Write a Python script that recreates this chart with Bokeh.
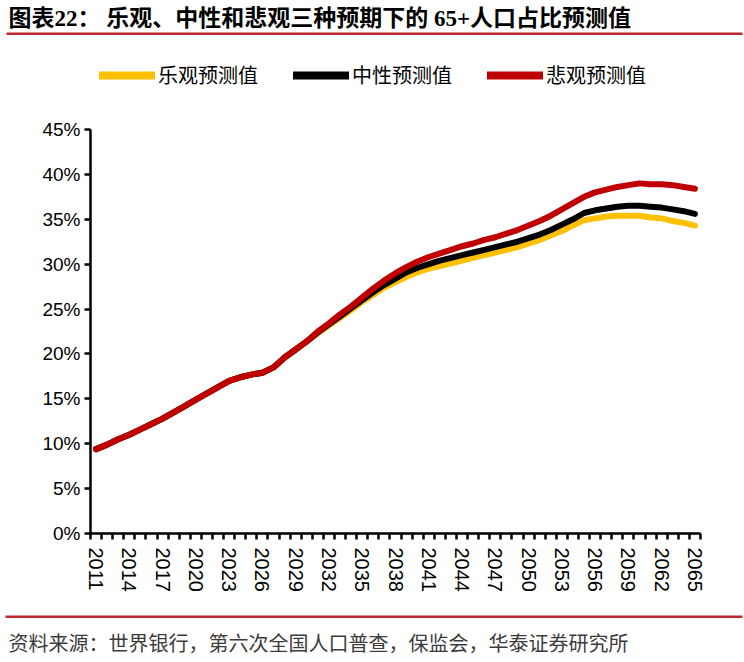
from bokeh.plotting import figure
from bokeh.layouts import column
from bokeh.models import Range1d, FixedTicker, Legend, LegendItem
from bokeh.core.properties import value
from bokeh.embed import file_html
from bokeh.resources import INLINE

years = [2011, 2012, 2013, 2014, 2015, 2016, 2017, 2018, 2019, 2020,
         2021, 2022, 2023, 2024, 2025, 2026, 2027, 2028, 2029, 2030,
         2031, 2032, 2033, 2034, 2035, 2036, 2037, 2038, 2039, 2040,
         2041, 2042, 2043, 2044, 2045, 2046, 2047, 2048, 2049, 2050,
         2051, 2052, 2053, 2054, 2055, 2056, 2057, 2058, 2059, 2060,
         2061, 2062, 2063, 2064, 2065]

optimistic = [9.4, 9.9, 10.5, 11.0, 11.6, 12.2, 12.8, 13.5, 14.2, 14.9,
              15.6, 16.3, 17.0, 17.4, 17.7, 17.9, 18.5, 19.6, 20.5, 21.4,
              22.3, 23.2, 24.0, 24.9, 25.8, 26.6, 27.4, 28.0, 28.6, 29.1,
              29.5, 29.8, 30.1, 30.4, 30.7, 31.0, 31.3, 31.6, 31.9, 32.3,
              32.7, 33.2, 33.7, 34.3, 34.9, 35.1, 35.3, 35.4, 35.4, 35.4,
              35.2, 35.1, 34.8, 34.6, 34.3]

neutral = [9.4, 9.9, 10.5, 11.0, 11.6, 12.2, 12.8, 13.5, 14.2, 14.9,
           15.6, 16.3, 17.0, 17.4, 17.7, 17.9, 18.5, 19.6, 20.5, 21.4,
           22.4, 23.3, 24.2, 25.1, 26.0, 26.9, 27.7, 28.4, 29.1, 29.6,
           30.0, 30.4, 30.7, 31.0, 31.3, 31.6, 31.9, 32.2, 32.5, 32.9,
           33.3, 33.8, 34.4, 35.0, 35.7, 36.0, 36.2, 36.4, 36.5, 36.5,
           36.4, 36.3, 36.1, 35.9, 35.6]

pessimistic = [9.4, 9.9, 10.5, 11.0, 11.6, 12.2, 12.8, 13.5, 14.2, 14.9,
               15.6, 16.3, 17.0, 17.4, 17.7, 17.9, 18.5, 19.6, 20.5, 21.4,
               22.5, 23.4, 24.4, 25.3, 26.3, 27.3, 28.2, 29.0, 29.7, 30.3,
               30.8, 31.2, 31.6, 32.0, 32.3, 32.7, 33.0, 33.4, 33.8, 34.3,
               34.8, 35.4, 36.1, 36.8, 37.5, 38.0, 38.3, 38.6, 38.8, 39.0,
               38.9, 38.9, 38.8, 38.6, 38.4]

tick_years = [2011, 2014, 2017, 2020, 2023, 2026, 2029, 2032, 2035, 2038,
              2041, 2044, 2047, 2050, 2053, 2056, 2059, 2062, 2065]
y_ticks = [0, 5, 10, 15, 20, 25, 30, 35, 40, 45]
y_tick_labels = ["0%", "5%", "10%", "15%", "20%", "25%", "30%", "35%", "40%", "45%"]

series_names = ["乐观预测值", "中性预测值", "悲观预测值"]
series_colors = ["#FFC000", "#000000", "#C00000"]
title_text = "图表22： 乐观、中性和悲观三种预期下的 65+人口占比预测值"
source_text = "资料来源：世界银行，第六次全国人口普查，保监会，华泰证券研究所"
rule_color = "#C0282D"

W = 744
HEAD_H, MAIN_H, FOOT_H = 99, 511, 52


def blank_fig(h):
    f = figure(width=W, height=h, output_backend="svg", toolbar_location=None,
               x_range=Range1d(0, W), y_range=Range1d(h, 0),
               x_axis_location=None, y_axis_location=None, min_border=0,
               frame_align=False)
    f.outline_line_color = None
    f.grid.visible = False
    return f


# ---------- header: title, red rule, legend ----------
head = blank_fig(HEAD_H)
head.text(x=[8], y=[18], text=[title_text],
          text_font=value("'Liberation Serif', 'Noto Sans CJK SC'"), text_font_style="bold",
          text_font_size="23px", text_baseline="middle", text_align="left", text_color="black")
head.quad(left=[6], right=[742], top=[32], bottom=[34.5], fill_color=rule_color, line_color=None)

# legend keys (drawn outside the visible range; only their legend swatches show)
legend_renderers = [head.line(x=[-60, -50], y=[-60, -60], line_color=c, line_width=8, line_cap="round")
                    for c in series_colors]
legend = Legend(items=[LegendItem(label=n, renderers=[r]) for n, r in zip(series_names, legend_renderers)],
                orientation="horizontal", location=(99, 10),
                glyph_width=56, glyph_height=20, label_height=20, label_standoff=3,
                spacing=35, padding=0, margin=0,
                border_line_color=None, background_fill_alpha=0,
                label_text_font="Noto Sans CJK SC", label_text_font_size="20px",
                label_text_color="black")
head.add_layout(legend, "center")

# ---------- main chart ----------
p = figure(width=W, height=MAIN_H, output_backend="svg", toolbar_location=None,
           x_range=Range1d(years[0] - 0.5, years[-1] + 0.5), y_range=Range1d(0, 45),
           min_border_left=90, min_border_right=44, min_border_top=30, min_border_bottom=77,
           frame_align=False)
p.outline_line_color = None
p.grid.visible = False

boundaries = [y - 0.5 for y in years] + [years[-1] + 0.5]
xa = p.xaxis[0]
xa.ticker = FixedTicker(ticks=tick_years, minor_ticks=boundaries)
xa.major_tick_out = 0
xa.major_tick_in = 0
xa.minor_tick_out = 6
xa.minor_tick_in = 0
xa.minor_tick_line_width = 2.5
xa.minor_tick_line_color = "black"
xa.axis_line_width = 2.5
xa.axis_line_color = "black"
xa.major_label_orientation = "vertical"
xa.major_label_standoff = 8
xa.major_label_text_font = "Liberation Sans"
xa.major_label_text_font_size = "20px"
xa.major_label_text_color = "black"

ya = p.yaxis[0]
ya.ticker = FixedTicker(ticks=y_ticks)
ya.major_label_overrides = {t: s for t, s in zip(y_ticks, y_tick_labels)}
ya.major_tick_out = 6
ya.major_tick_in = 0
ya.major_tick_line_width = 2.5
ya.minor_tick_out = 0
ya.minor_tick_in = 0
ya.axis_line_width = 2.5
ya.axis_line_color = "black"
ya.major_label_standoff = 4
ya.major_label_text_font = "Liberation Sans"
ya.major_label_text_font_size = "19px"
ya.major_label_text_color = "black"

for vals, col in zip([optimistic, neutral, pessimistic], series_colors):
    p.line(years, vals, line_color=col, line_width=6, line_join="round", line_cap="round")

# ---------- footer: red rule and source ----------
foot = blank_fig(FOOT_H)
foot.quad(left=[5], right=[742], top=[5], bottom=[7.5], fill_color=rule_color, line_color=None)
foot.text(x=[8], y=[32], text=[source_text], text_font=value("Noto Sans CJK SC"),
          text_font_size="20px", text_baseline="middle", text_align="left", text_color="#3c3c3c")

layout = column(head, p, foot, spacing=0)
open("out.html", "w").write(file_html(layout, INLINE))
